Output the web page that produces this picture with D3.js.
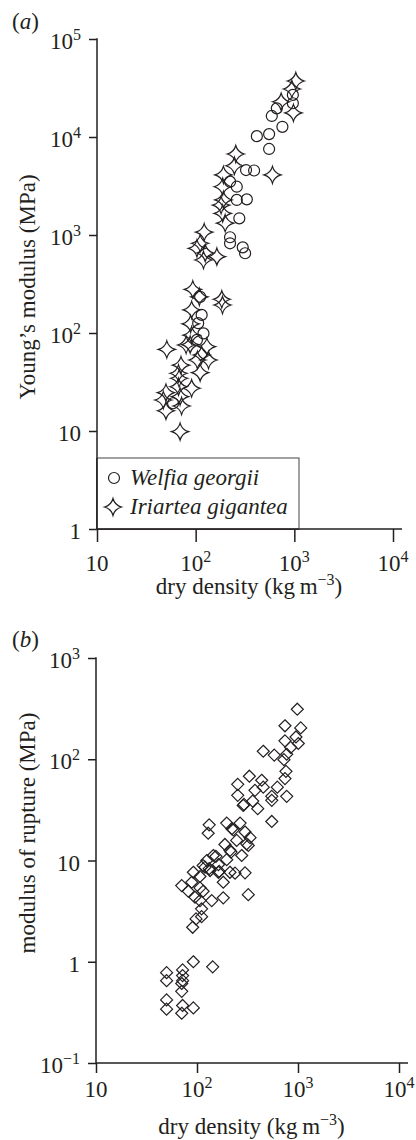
<!DOCTYPE html>
<html><head><meta charset="utf-8">
<script src="https://cdn.jsdelivr.net/npm/d3@7"></script>
<style>
body{margin:0;background:#fff}
svg{display:block}
</style>
</head><body>
<svg id="c" width="416" height="1140" font-family="'Liberation Serif', 'Times New Roman', Times, serif" fill="#231f20"></svg>
<script>
// ---------- DATA ----------
// Panel (a): Young's modulus vs dry density
const welfiaDensity = [966, 966, 664, 591, 757, 417, 555, 555, 324, 391, 223, 261, 261, 330, 277, 223, 223, 300, 317, 111, 115, 106, 120, 103, 59];
const welfiaModulus = [26900, 22100, 19600, 16400, 12700, 10200, 10700, 7550, 4600, 4550, 3500, 3110, 2280, 2310, 1480, 948, 823, 748, 651, 234, 153, 126, 99, 85, 19.2];
const iriarteaDensity = [1035, 944, 735, 979, 255, 247, 600, 191, 188, 191, 181, 188, 199, 122, 111, 103, 125, 164, 120, 93.5, 109, 184, 187, 91, 89, 91, 51, 80, 88, 130, 115, 135, 104, 71, 111, 67, 68, 67, 91, 50, 69.5, 47, 72, 50, 69.5];
const iriarteaModulus = [37300, 30900, 22900, 17600, 6710, 5090, 4100, 4100, 3110, 2280, 2020, 1660, 1320, 1070, 823, 731, 655, 601, 556, 279, 234, 221, 193, 172, 124, 95, 68, 75.5, 76, 72.5, 59.7, 53, 53, 47, 39.4, 38.8, 34.5, 28.3, 27.3, 24.6, 22.4, 20.7, 18, 16.1, 9.85];
// Panel (b): modulus of rupture vs dry density
const ruptureDensity = [984, 743, 1064, 955, 743, 1007, 847, 453, 582, 773, 726, 760, 743, 330, 437, 253, 375, 624, 550, 773, 253, 356, 292, 399, 453, 550, 132, 129, 197, 267, 221, 299, 335, 247, 310, 189, 212, 277, 154, 125, 197, 163, 120, 92, 134.6, 163, 212, 299, 229, 322, 217, 145, 115, 132, 166, 238, 107, 70.6, 88.7, 82, 107, 115, 182, 95.5, 140, 182, 322, 107, 111, 111, 97.8, 90.6, 92, 143, 50, 72, 72, 72, 50, 70.6, 70.6, 50, 50, 72, 70.6, 92, 287, 550];
const ruptureModulus = [312, 214, 204, 166, 152, 143, 131, 120, 110, 112, 99, 76, 64.4, 68, 62, 56.5, 49.3, 53, 43, 43, 44, 38.6, 35.8, 32.5, 53, 24.3, 22.5, 18.6, 23.4, 23.4, 20.6, 19.1, 16.8, 15.8, 14.6, 14.4, 12.6, 11.2, 11.0, 10, 10.2, 9.1, 8.6, 7.65, 7.96, 7.65, 7.65, 7.55, 20.1, 14.1, 12.1, 11.2, 8.9, 8.3, 7.8, 7.5, 6.95, 5.65, 6.1, 4.97, 5.37, 4.97, 6.1, 4.34, 4.02, 4.28, 4.6, 4.02, 3.33, 2.79, 2.65, 2.19, 1.0, 0.89, 0.78, 0.83, 0.73, 0.65, 0.65, 0.61, 0.51, 0.42, 0.34, 0.37, 0.31, 0.35, 35, 39.3];

// Ticks
const xTicks = [10, 100, 1000, 10000];
const xTickBase = ["10", "10", "10", "10"];
const xTickExp = ["", "2", "3", "4"];
const yTicksA = [1, 10, 100, 1000, 10000, 100000];
const yTickBaseA = ["1", "10", "10", "10", "10", "10"];
const yTickExpA = ["", "", "2", "3", "4", "5"];
const yTicksB = [0.1, 1, 10, 100, 1000];
const yTickBaseB = ["10", "1", "10", "10", "10"];
const yTickExpB = ["\u22121", "", "", "2", "3"];

const legendNames = ["Welfia georgii", "Iriartea gigantea"];

// ---------- DRAW ----------
const svg = d3.select("#c");
const INK = "#231f20";
const FS = 23, SUP = 16;

const starPath = (r, c) => `M0,${-r}Q${c},${-c} ${r},0Q${c},${c} 0,${r}Q${-c},${c} ${-r},0Q${-c},${-c} 0,${-r}Z`;
const diamondPath = r => `M0,${-r}L${r},0L0,${r}L${-r},0Z`;

function supText(sel, base, exp) {
  sel.append("tspan").text(base);
  if (exp) sel.append("tspan").attr("dy", -9).attr("font-size", SUP).text(exp);
}

function panel(opts) {
  const {x, y, yTicks, yBase, yExp, tickLenX, xLabelDy, xTitleY, yTitle, yTitleCY, tag, tagY, xExtend} = opts;
  const g = svg.append("g");
  const y0 = y.range()[0];
  const x0 = x.range()[0];

  const ax = g.append("g").attr("transform", `translate(0,${y0})`)
    .call(d3.axisBottom(x).tickValues(xTicks).tickSize(tickLenX).tickSizeOuter(0).tickFormat(""));
  ax.select(".domain").remove();
  ax.selectAll(".tick line").attr("stroke", INK).attr("stroke-width", 1.5);
  const ay = g.append("g").attr("transform", `translate(${x0},0)`)
    .call(d3.axisLeft(y).tickValues(yTicks).tickSize(8).tickSizeOuter(0).tickFormat(""));
  ay.select(".domain").remove();
  ay.selectAll(".tick line").attr("stroke", INK).attr("stroke-width", 1.5);

  g.append("line").attr("x1", x0).attr("x2", x.range()[1] + xExtend)
    .attr("y1", y0).attr("y2", y0).attr("stroke", INK).attr("stroke-width", 1.5);
  g.append("line").attr("x1", x0).attr("x2", x0)
    .attr("y1", y.range()[1] - 0.75).attr("y2", y0 + 0.75).attr("stroke", INK).attr("stroke-width", 1.5);

  xTicks.forEach((v, i) => {
    const t = g.append("text").attr("x", x(v)).attr("y", y0 + xLabelDy)
      .attr("text-anchor", "middle").attr("font-size", FS);
    supText(t, xTickBase[i], xTickExp[i]);
  });
  yTicks.forEach((v, i) => {
    const t = g.append("text").attr("x", x0 - 16).attr("y", y(v) + 10)
      .attr("text-anchor", "end").attr("font-size", FS);
    supText(t, yBase[i], yExp[i]);
  });

  const xt = g.append("text").attr("x", (x.range()[0] + x.range()[1]) / 2 + 4).attr("y", xTitleY)
    .attr("text-anchor", "middle").attr("font-size", FS);
  xt.append("tspan").text("dry density (kg\u2009m");
  xt.append("tspan").attr("dy", -9).attr("font-size", SUP).text("\u22123");
  xt.append("tspan").attr("dy", 9).text(")");

  g.append("text").attr("transform", `translate(35,${yTitleCY}) rotate(-90)`)
    .attr("text-anchor", "middle").attr("font-size", FS).text(yTitle);

  const tg = g.append("text").attr("x", 12).attr("y", tagY).attr("font-size", FS);
  tg.append("tspan").text("(");
  tg.append("tspan").attr("font-style", "italic").text(tag);
  tg.append("tspan").text(")");
  return g;
}

// Panel (a)
const xA = d3.scaleLog().domain([10, 1e4]).range([97, 393]);
const yA = d3.scaleLog().domain([1, 1e5]).range([529, 39]);
const gA = panel({x: xA, y: yA, yTicks: yTicksA, yBase: yTickBaseA, yExp: yTickExpA,
  tickLenX: 13, xLabelDy: 42, xTitleY: 594, yTitle: "Young\u2019s modulus (MPa)", yTitleCY: 287,
  tag: "a", tagY: 29, xExtend: 9});

const legX0 = xA(10), legX1 = xA(10) + 202, legY0 = yA(1) - 71, legY1 = yA(1);
gA.append("rect").attr("x", legX0).attr("y", legY0).attr("width", legX1 - legX0).attr("height", legY1 - legY0)
  .attr("fill", "#fff").attr("stroke", "#444").attr("stroke-width", 1);

gA.append("g").selectAll("circle").data(welfiaDensity.map((d, i) => [d, welfiaModulus[i]])).join("circle")
  .attr("cx", d => xA(d[0])).attr("cy", d => yA(d[1])).attr("r", 5.5)
  .attr("fill", "none").attr("stroke", INK).attr("stroke-width", 1.2);
gA.append("g").selectAll("path").data(iriarteaDensity.map((d, i) => [d, iriarteaModulus[i]])).join("path")
  .attr("transform", d => `translate(${xA(d[0])},${yA(d[1])})`).attr("d", starPath(8.5, 1.8))
  .attr("fill", "none").attr("stroke", INK).attr("stroke-width", 1.2);

gA.append("line").attr("x1", legX0).attr("x2", legX0).attr("y1", legY0).attr("y2", legY1)
  .attr("stroke", INK).attr("stroke-width", 1.5);
gA.append("line").attr("x1", legX0).attr("x2", legX1).attr("y1", legY1).attr("y2", legY1)
  .attr("stroke", INK).attr("stroke-width", 1.5);

const lg = gA.append("g");
lg.append("circle").attr("cx", legX0 + 17).attr("cy", legY0 + 20).attr("r", 5.5)
  .attr("fill", "none").attr("stroke", INK).attr("stroke-width", 1.2);
lg.append("path").attr("transform", `translate(${legX0 + 16},${legY0 + 49})`).attr("d", starPath(8.5, 1.8))
  .attr("fill", "none").attr("stroke", INK).attr("stroke-width", 1.2);
legendNames.forEach((n, i) => {
  lg.append("text").attr("x", legX0 + 33).attr("y", legY0 + 27 + i * 29)
    .attr("font-size", FS).attr("font-style", "italic").text(n);
});

// Panel (b)
const xB = d3.scaleLog().domain([10, 1e4]).range([96, 399]);
const yB = d3.scaleLog().domain([0.1, 1000]).range([1063, 658]);
const gB = panel({x: xB, y: yB, yTicks: yTicksB, yBase: yTickBaseB, yExp: yTickExpB,
  tickLenX: 10, xLabelDy: 34, xTitleY: 1134, yTitle: "modulus of rupture (MPa)", yTitleCY: 833,
  tag: "b", tagY: 647, xExtend: 9});

gB.append("g").selectAll("path").data(ruptureDensity.map((d, i) => [d, ruptureModulus[i]])).join("path")
  .attr("transform", d => `translate(${xB(d[0])},${yB(d[1])})`).attr("d", diamondPath(6))
  .attr("fill", "none").attr("stroke", INK).attr("stroke-width", 1.2);
</script>
</body></html>
